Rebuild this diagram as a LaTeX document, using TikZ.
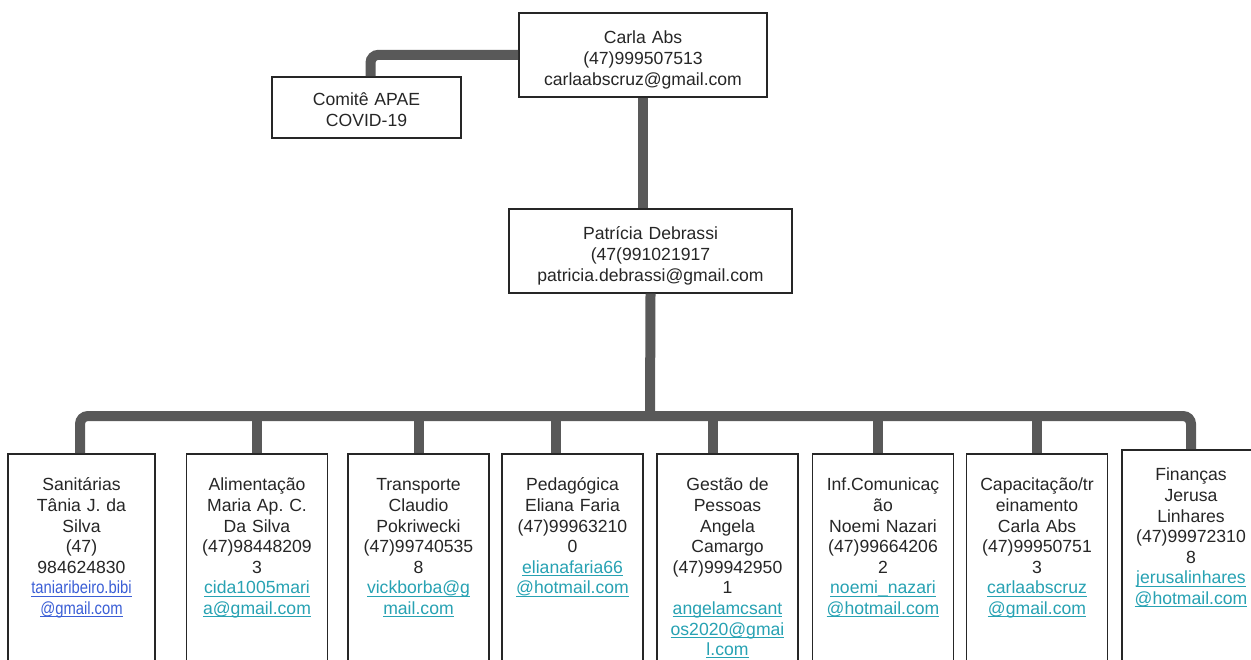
\documentclass[tikz,border=0pt]{standalone}
\usepackage{fontspec}
\setmainfont{Liberation Sans}
\usetikzlibrary{positioning}
\frenchspacing

\definecolor{txt}{HTML}{262626}
\definecolor{wirecol}{HTML}{595959}
\definecolor{linkteal}{HTML}{27A2B3}
\definecolor{linkblue}{HTML}{3B5FD6}
% underlined link text, rule close under the baseline
\newcommand{\ulink}[1]{\setbox0\hbox{#1}\rlap{\rule[-1.4pt]{\wd0}{0.55pt}}\box0}
\newcommand{\lnk}[1]{\textcolor{linkteal}{\ulink{#1}}}
\newcommand{\lnkb}[1]{\textcolor{linkblue}{\scalebox{0.84}[1]{\ulink{#1}}}}

\tikzset{
  box/.style={draw=black!85, fill=white, line width=0.8pt, align=center,
    inner xsep=1pt, inner ysep=0pt, text=txt, anchor=north,
    font=\fontsize{8.8pt}{10.3pt}\selectfont},
  topbox/.style={box, text height=15.5pt, text depth=26.5pt},
  leaf/.style={box, text width=68.5pt, text height=18.5pt, text depth=95pt},
  wire/.style={draw=wirecol, line width=5pt, rounded corners=4pt}
}

\begin{document}
\begin{tikzpicture}[x=0.5pt,y=-0.5pt]

      \path[use as bounding box, clip] (0,0) rectangle (1251,659);

      \begin{scope}[every node/.style={topbox}]
        \node[text width=122pt] (1) at (643,12) {Carla Abs\\(47)999507513\\carlaabscruz@gmail.com};
        \node[text width=92.5pt, text height=14.5pt, text depth=16pt] (2) at (366.5,76) {Comitê APAE\\COVID-19};
        \node[text width=139.5pt] (3) at (650.5,208) {Patrícia Debrassi\\(47(991021917\\patricia.debrassi@gmail.com};
      \end{scope}

      \begin{scope}[every node/.style={leaf}]
        \node[text width=71.5pt] (4) at (81.5,453) {Sanitárias\\Tânia J. da\\Silva\\(47)\\984624830\\\lnkb{taniaribeiro.bibi}\\\lnkb{@gmail.com}};
        \node (5)  at (257,453)    {Alimentação\\Maria Ap. C.\\Da Silva\\(47)98448209\\3\\\lnk{cida1005mari}\\\lnk{a@gmail.com}};
        \node (6)  at (418.5,453)  {Transporte\\Claudio\\Pokriwecki\\(47)99740535\\8\\\lnk{vickborba@g}\\\lnk{mail.com}};
        \node (7)  at (572.5,453)  {Pedagógica\\Eliana Faria\\(47)99963210\\0\\\lnk{elianafaria66}\\\lnk{@hotmail.com}};
        \node (8)  at (727.5,453)  {Gestão de\\Pessoas\\Angela\\Camargo\\(47)99942950\\1\\\lnk{angelamcsant}\\\lnk{os2020@gmai}\\\lnk{l.com}};
        \node (9)  at (883,453)    {Inf.Comunicaç\\ão\\Noemi Nazari\\(47)99664206\\2\\\lnk{noemi\_nazari}\\\lnk{@hotmail.com}};
        \node (10) at (1037,453)   {Capacitação/tr\\einamento\\Carla Abs\\(47)99950751\\3\\\lnk{carlaabscruz}\\\lnk{@gmail.com}};
        \node[text width=67pt, text height=15.5pt, text depth=100pt] (11) at (1191,449) {Finanças\\Jerusa\\Linhares\\(47)99972310\\8\\\lnk{jerusalinhares}\\\lnk{@hotmail.com}};
      \end{scope}

      % junctions on the long bar
      \coordinate (bus) at (650,416);
      \foreach \n/\x in {4/80,5/257,6/419,7/556,8/713,9/878,10/1037,11/1191}
        \coordinate (b\n) at (\x,416);

      \draw[wire] (1.west) -| ([xshift=2pt]2.north);
      \draw[wire] (1.south) -- (1.south |- 3.north);
      \draw[wire] (3.south) -- (bus);
      \draw[wire] (4.north -| b4) -- (b4) -- (b11) -- (b11 |- 11.north);
      \foreach \n in {5,...,10}
        \draw[wire] (b\n) -- (b\n |- \n.north);

    \end{tikzpicture}
\end{document}
